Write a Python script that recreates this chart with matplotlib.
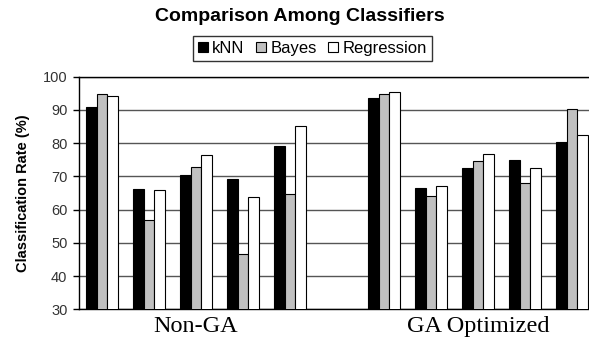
import numpy as np
import matplotlib.pyplot as plt

# Classification rates (%) per test set, five sets in each condition
groups = ["Non-GA", "GA Optimized"]
classifiers = ["kNN", "Bayes", "Regression"]
knn_non_ga = [91.0, 66.2, 70.3, 69.3, 79.2]
bayes_non_ga = [94.8, 56.9, 72.7, 46.7, 64.7]
reg_non_ga = [94.1, 65.9, 76.4, 63.8, 85.1]
knn_ga = [93.7, 66.5, 72.4, 74.9, 80.2]
bayes_ga = [94.8, 64.0, 74.6, 68.0, 90.4]
reg_ga = [95.3, 67.0, 76.6, 72.4, 82.5]

colors = ["#000000", "#c0c0c0", "#ffffff"]

n_sets = len(knn_non_ga)
# one empty slot separates the two conditions
slots = np.concatenate([np.arange(n_sets), np.arange(n_sets) + n_sets + 1]) + 0.5
series = [knn_non_ga + knn_ga, bayes_non_ga + bayes_ga, reg_non_ga + reg_ga]
width = 0.228

fig = plt.figure(figsize=(5.89, 3.44), dpi=100)
ax = fig.add_axes([0.1333, 0.1009, 0.8778, 0.6761])

for i, (name, vals, c) in enumerate(zip(classifiers, series, colors)):
    ax.bar(slots + (i - 1) * width, vals, width=width, color=c,
           edgecolor="black", linewidth=0.8, label=name, zorder=3)

ax.set_ylim(30, 100)
ax.set_xlim(0, 2 * n_sets + 1)
ax.set_yticks(np.arange(30, 101, 10))
ax.yaxis.grid(True, color="#555555", linewidth=1.0, zorder=0)
ax.set_axisbelow(True)

ax.spines["right"].set_visible(False)
for side in ["left", "bottom", "top"]:
    ax.spines[side].set_color("black")
    ax.spines[side].set_linewidth(1.0)

ax.tick_params(axis="y", direction="out", length=4, width=1, pad=4,
               labelsize=10.5, labelcolor="#333333")
ax.set_xticks([n_sets / 2, n_sets + 1 + n_sets / 2])
ax.set_xticklabels(groups, family="Liberation Serif", fontsize=17.5)
ax.tick_params(axis="x", length=0, pad=5)

ax.set_ylabel("Classification Rate (%)", family="Liberation Sans",
              fontweight="bold", fontsize=10.5, labelpad=9)
for lbl in ax.get_yticklabels():
    lbl.set_family("Liberation Sans")

fig.text(0.5085, 0.953, "Comparison Among Classifiers", ha="center",
         va="center", family="Liberation Sans", fontweight="heavy",
         fontsize=14)

leg = fig.legend(loc="center", bbox_to_anchor=(0.5306, 0.859), ncol=3,
                 frameon=True, fancybox=False, edgecolor="black",
                 prop={"family": "Liberation Sans", "size": 12},
                 handlelength=0.6, handleheight=0.55, handletextpad=0.25,
                 columnspacing=0.7, borderpad=0.3, borderaxespad=0)
leg.get_frame().set_linewidth(1.0)

fig.savefig("out.png", dpi=100)
